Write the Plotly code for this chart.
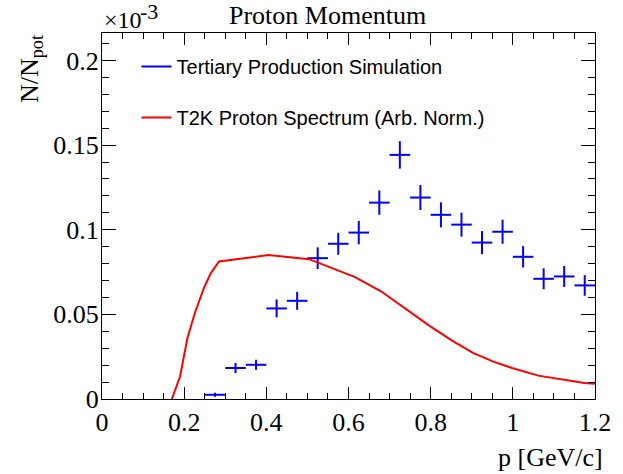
import plotly.graph_objects as go

# Tertiary production simulation (units of 1e-3)
bin_centers = [0.275, 0.325, 0.375, 0.425, 0.475, 0.525, 0.575, 0.625, 0.675, 0.725,
               0.775, 0.825, 0.875, 0.925, 0.975, 1.025, 1.075, 1.125, 1.175]
sim_values = [0.0025, 0.0183, 0.0202, 0.0535, 0.058, 0.0832, 0.0917, 0.0983, 0.116, 0.1442,
              0.119, 0.1088, 0.103, 0.0924, 0.0988, 0.084, 0.071, 0.0724, 0.0671]
sim_errors = [0.0012, 0.003, 0.003, 0.0053, 0.0053, 0.0064, 0.0065, 0.0069, 0.0072, 0.0081,
              0.0074, 0.0074, 0.0071, 0.0068, 0.0071, 0.0063, 0.0062, 0.0062, 0.0061]
bin_half_width = [0.025] * len(bin_centers)

# T2K proton spectrum (arbitrary normalisation, units of 1e-3)
t2k_p = [0.170, 0.190, 0.208, 0.226, 0.248, 0.265, 0.285, 0.405, 0.504, 0.616, 0.680,
         0.736, 0.799, 0.855, 0.903, 0.951, 0.998, 1.062, 1.110, 1.174, 1.2]
t2k_values = [0.0, 0.0133, 0.036, 0.0508, 0.0655, 0.0744, 0.0812, 0.085, 0.0826, 0.072, 0.0635,
              0.0537, 0.0429, 0.034, 0.0272, 0.0222, 0.0183, 0.0138, 0.012, 0.0094, 0.009]

BLUE = "#0000ff"
RED = "#ff0000"
SERIF = "Liberation Serif"
SANS = "Liberation Sans"

fig = go.Figure()

fig.add_trace(go.Scatter(
    x=bin_centers, y=sim_values, mode="markers",
    marker=dict(size=2, color="rgba(0,0,0,0)"),
    error_x=dict(type="data", array=bin_half_width, width=0, thickness=2, color=BLUE),
    error_y=dict(type="data", array=sim_errors, width=0, thickness=2, color=BLUE),
    showlegend=False, hoverinfo="skip",
))
fig.add_trace(go.Scatter(
    x=t2k_p, y=t2k_values, mode="lines",
    line=dict(color=RED, width=2),
    showlegend=False,
))
# legend entries
fig.add_trace(go.Scatter(x=[None], y=[None], mode="lines", line=dict(color=BLUE, width=2),
                         name="Tertiary Production Simulation", legendgroup="a"))
fig.add_trace(go.Scatter(x=[None], y=[None], mode="lines", line=dict(color=RED, width=2),
                         name="T2K Proton Spectrum (Arb. Norm.)", legendgroup="b"))

axis_common = dict(
    ticks="inside", tickcolor="black", tickwidth=1,
    showline=True, linecolor="black", linewidth=1, mirror="ticks",
    showgrid=False, zeroline=False,
    tickfont=dict(family=SERIF, size=26, color="black"),
)

fig.update_xaxes(range=[0, 1.2], tick0=0, dtick=0.2, ticklen=12,
                 minor=dict(dtick=0.05, ticklen=6, ticks="inside", tickcolor="black"),
                 **axis_common)
fig.update_yaxes(range=[0, 0.2162], tick0=0, dtick=0.05, ticklen=14,
                 ticklabelstandoff=-3,
                 minor=dict(dtick=0.01, ticklen=7, ticks="inside", tickcolor="black"),
                 **axis_common)

ann = [
    dict(text="Proton Momentum", x=0.4576, y=1.049, xref="paper", yref="paper",
         xanchor="center", yanchor="middle", showarrow=False,
         font=dict(family=SERIF, size=26, color="black")),
    dict(text="×10", x=0.0, y=1.035, xref="paper", yref="paper",
         xanchor="left", yanchor="middle", showarrow=False,
         font=dict(family=SERIF, size=24, color="black")),
    dict(text="-3", x=0.073, y=1.06, xref="paper", yref="paper",
         xanchor="left", yanchor="middle", showarrow=False,
         font=dict(family=SERIF, size=22, color="black")),
    dict(text="p [GeV/c]", x=1.02, y=-0.16, xref="paper", yref="paper",
         xanchor="right", yanchor="middle", showarrow=False,
         font=dict(family=SERIF, size=26, color="black")),
    dict(text="N/N<sub>pot</sub>", x=-0.144, y=1.0, xref="paper", yref="paper",
         xanchor="center", yanchor="top", textangle=-90, showarrow=False,
         font=dict(family=SERIF, size=26, color="black")),
]

fig.update_layout(
    width=623, height=474,
    margin=dict(l=102, r=19, t=33, b=75),
    paper_bgcolor="white", plot_bgcolor="white",
    annotations=ann,
    legend=dict(x=0.07, y=0.962, xanchor="left", yanchor="top",
                bgcolor="rgba(0,0,0,0)", borderwidth=0,
                font=dict(family=SANS, size=20, color="black"),
                tracegroupgap=22),
)

fig.write_html("out.html")
